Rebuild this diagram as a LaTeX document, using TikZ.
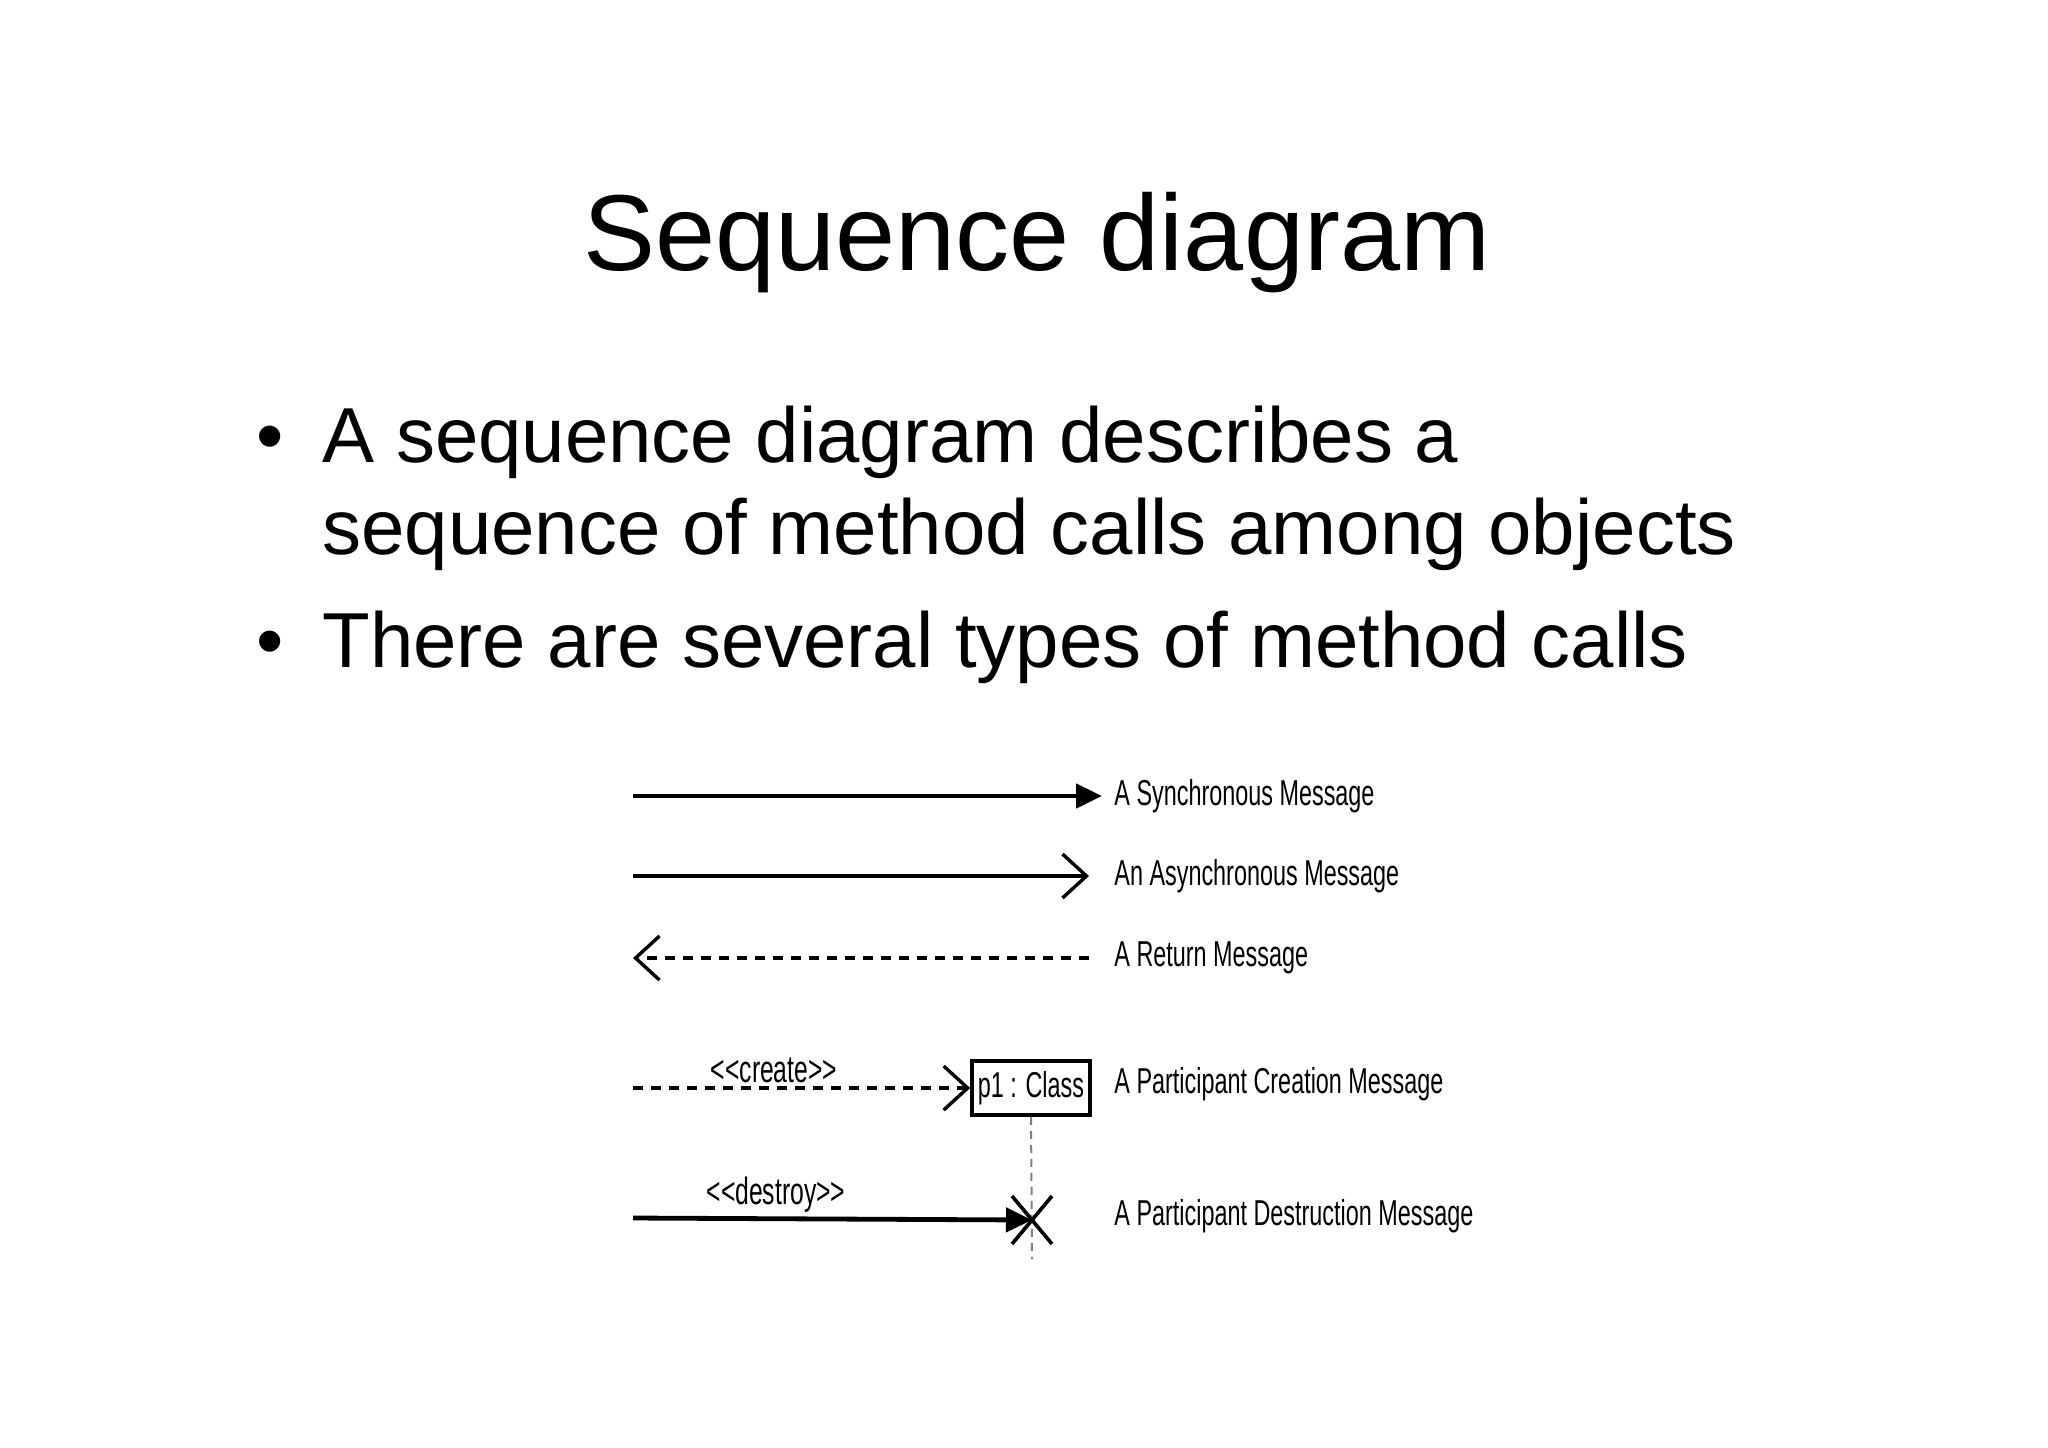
\documentclass[tikz,border=0pt]{standalone}
\usepackage{fontspec}
\setmainfont{Liberation Sans}
\newfontfamily\narrowfont[FakeStretch=0.65]{Liberation Sans}
\usetikzlibrary{arrows.meta}
\begin{document}
\begin{tikzpicture}[x=0.5pt,y=-0.5pt,
  lbl/.style={anchor=west,inner sep=0pt,font=\narrowfont\fontsize{18}{20}\selectfont},
  stereo/.style={inner sep=0pt,font=\narrowfont\fontsize{19}{21}\selectfont},
  msg/.style={line width=2.4pt},
  dsh/.style={line width=2.4pt,dash pattern=on 5pt off 4pt},
  syn/.style={-{Triangle[length=13pt,width=12pt]}},
  asy/.style={-{Straight Barb[length=12pt,width=22pt,line width=1.7pt]}},
  bullettxt/.style={anchor=base west,inner sep=0pt,font=\fontsize{39}{47}\selectfont}]
\useasboundingbox (0,0) rectangle (2048,1447);
\node[anchor=base,inner sep=0pt,font=\fontsize{54}{62}\selectfont] (title) at (1037,270) {Sequence diagram};
\node[bullettxt] (b1) at (256,462) {•};
\node[bullettxt] (t1) at (322,462) {A sequence diagram describes a};
\node[bullettxt] (t2) at (322,554) {sequence of method calls among objects};
\node[bullettxt] (b2) at (256,667) {•};
\node[bullettxt] (t3) at (322,667) {There are several types of method calls};
\begin{scope}[shift={(-8,-9)}]
\coordinate (s1) at (641,805); \coordinate (e1) at (1110,805);
\coordinate (s2) at (641,885); \coordinate (e2) at (1097,885);
\coordinate (s3) at (1097,967); \coordinate (e3) at (641,967);
\coordinate (s4) at (641,1097);
\coordinate (s5) at (641,1227);
\draw[msg,syn] (s1) -- (e1);
\draw[msg,asy] (s2) -- (e2);
\draw[dsh,asy] (s3) -- (e3);
\node[lbl] (l1) at (1122,805) {A Synchronous Message};
\node[lbl] (l2) at (1122,885) {An Asynchronous Message};
\node[lbl] (l3) at (1122,967) {A Return Message};
\node[draw,line width=1.8pt,minimum width=59pt,minimum height=27pt,inner sep=0pt,font=\narrowfont\fontsize{18}{20}\selectfont] (box) at (1039,1097) {p1 : Class};
\draw[dsh,asy] (s4) -- (box.west);
\node[stereo,anchor=south] (cr) at (782,1092) {<<create>>};
\node[lbl] (l4) at (1122,1093) {A Participant Creation Message};
\coordinate (xc) at (1040,1229);
\coordinate (lend) at (1040,1268);
\draw[gray,line width=1pt,dash pattern=on 4pt off 3pt] (box.south) -- (lend);
\draw[msg,syn] (s5) -- (xc);
\draw[line width=1.8pt] ([shift={(-20,-24)}]xc) -- ([shift={(20,24)}]xc) ([shift={(20,-24)}]xc) -- ([shift={(-20,24)}]xc);
\node[stereo,anchor=south] (de) at (784,1222) {<<destroy>>};
\node[lbl] (l5) at (1122,1225) {A Participant Destruction Message};
\end{scope}
\end{tikzpicture}
\end{document}
